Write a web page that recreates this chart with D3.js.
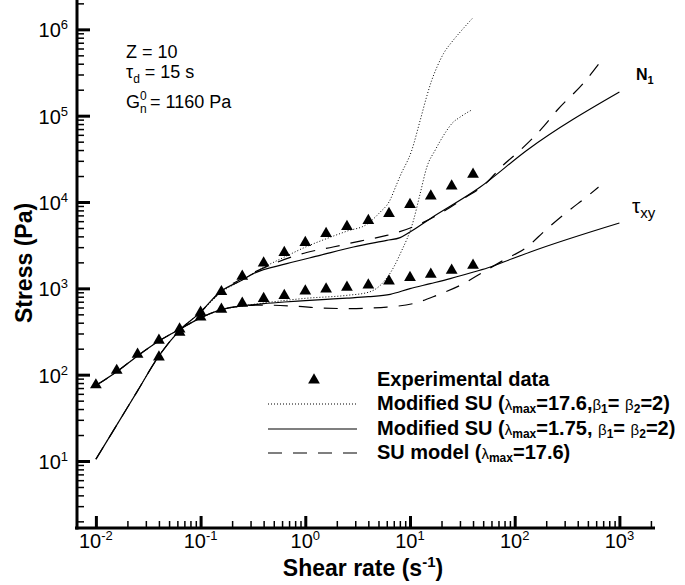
<!DOCTYPE html>
<html>
<head>
<meta charset="utf-8">
<script src="https://cdn.jsdelivr.net/npm/d3@7/dist/d3.min.js"></script>
<style>
  body { margin: 0; background: #fff; }
  text { font-family: Arial, "Liberation Sans", sans-serif; fill: #000; }
</style>
</head>
<body>
<script>
// dimensions
const width = 685;
const height = 585;

// experimental data (triangles)
const tauExpRate = [0.01, 0.0158, 0.025, 0.04, 0.063, 0.1, 0.158, 0.25, 0.4, 0.63, 1.0, 1.58, 2.5, 4.0, 6.3, 10, 15.8, 25, 40];
const tauExp = [76, 112, 172, 250, 337, 465, 571, 670, 760, 823, 930, 980, 1030, 1090, 1215, 1330, 1450, 1620, 1850];
const n1ExpRate = [0.04, 0.063, 0.1, 0.158, 0.25, 0.4, 0.63, 1.0, 1.58, 2.5, 4.0, 6.3, 10, 15.8, 25, 40];
const n1Exp = [160, 310, 527, 915, 1377, 1963, 2590, 3390, 4300, 5190, 6090, 7340, 9320, 11700, 15300, 20900];

// Modified SU (lambda_max = 17.6) - dotted
const dotN1Rate = [0.01, 0.0158, 0.025, 0.04, 0.063, 0.1, 0.158, 0.25, 0.4, 0.63, 1.0, 1.6, 2.5, 3.87, 5.2, 6.3, 7.5, 8.05, 10.4, 12.5, 14.5, 16, 18.1, 20.9, 25.1, 30.2, 39.2];
const dotN1 = [10.5, 26, 65, 165, 326, 531, 900, 1250, 1750, 2300, 3000, 3770, 4600, 5520, 7660, 10000, 16300, 20000, 39800, 88000, 170000, 250000, 366000, 524000, 714000, 933000, 1330000];
const dotTauRate = [0.01, 0.0158, 0.025, 0.04, 0.063, 0.1, 0.158, 0.25, 0.4, 1.0, 2.5, 4.0, 5.2, 7.0, 8.05, 10.8, 12.5, 14.5, 17.4, 22.5, 25.1, 30.2, 39.1];
const dotTau = [75, 108, 165, 245, 335, 455, 566, 624, 676, 766, 830, 900, 1083, 1766, 2500, 6140, 12500, 25500, 39900, 67700, 81000, 96600, 117000];

// Modified SU (lambda_max = 1.75) - solid
const solN1Rate = [0.01, 0.0158, 0.025, 0.04, 0.063, 0.1, 0.153, 0.25, 0.319, 0.665, 1.38, 2.88, 6.0, 8.05, 10, 15.6, 46.9, 131, 1000];
const solN1 = [10.5, 26, 65, 165, 326, 531, 906, 1250, 1480, 1930, 2410, 3010, 3600, 3870, 4490, 6420, 14900, 39800, 188000];
const solTauRate = [0.01, 0.0158, 0.025, 0.04, 0.063, 0.1, 0.158, 0.25, 0.4, 0.63, 1.0, 1.58, 2.5, 4.0, 6.47, 10, 15.6, 24.2, 40.5, 58.5, 78.3, 141, 1000];
const solTau = [75, 108, 165, 245, 335, 455, 566, 625, 665, 695, 720, 745, 770, 800, 852, 993, 1133, 1295, 1545, 1766, 2018, 2640, 5720];

// SU model (lambda_max = 17.6) - dashed
const dashN1Rate = [0.01, 0.0158, 0.025, 0.04, 0.063, 0.1, 0.158, 0.25, 0.535, 1.03, 1.84, 3.34, 6.0, 11.6, 18.1, 32.5, 50.5, 78.3, 113, 189, 254, 456, 631];
const dashN1 = [10.5, 26, 65, 165, 326, 531, 930, 1300, 2000, 2600, 3010, 3530, 4100, 5370, 7020, 10960, 15600, 27000, 39800, 75000, 115600, 240000, 394000];
const dashTauRate = [0.01, 0.0158, 0.025, 0.04, 0.063, 0.1, 0.158, 0.25, 0.4, 0.83, 1.48, 2.73, 4.0, 6.0, 10.7, 18, 30.2, 50, 77.8, 131, 196, 316, 508, 631];
const dashTau = [75, 108, 165, 245, 335, 455, 566, 625, 640, 619, 590, 582, 590, 607, 665, 830, 1084, 1545, 2110, 3010, 4700, 7660, 11970, 14900];

// axis ticks
const xMajor = [-2, -1, 0, 1, 2, 3];
const yMajor = [1, 2, 3, 4, 5, 6];

const legendLabels = ["Experimental data", "Modified SU", "Modified SU", "SU model"];

let svg = d3.select("body")
    .append("svg")
    .attr("width", width)
    .attr("height", height);

// log scales
let x = d3.scaleLog()
    .domain([Math.pow(10, -2.19), Math.pow(10, 3.34)])
    .range([76, 655]);
let y = d3.scaleLog()
    .domain([Math.pow(10, 0.224), Math.pow(10, 6.34)])
    .range([528, 0]);

// minor tick values
let xMinor = [];
for (let e = -3; e <= 3; e++) {
    for (let m = 2; m <= 9; m++) {
        let v = m * Math.pow(10, e);
        if (v > 0.01 && v < x.domain()[1]) xMinor.push(v);
    }
}
let yMinor = [];
for (let e = 0; e <= 6; e++) {
    for (let m = 2; m <= 9; m++) {
        let v = m * Math.pow(10, e);
        if (v > y.domain()[0] && v < y.domain()[1]) yMinor.push(v);
    }
}

// ticks point into the plot
function styleAxis(g, w) {
    g.select(".domain").remove();
    g.selectAll("line").attr("stroke", "#000").attr("stroke-width", w);
}
svg.append("g")
    .attr("transform", "translate(0,528)")
    .call(d3.axisTop(x).tickValues(xMinor).tickSize(7).tickFormat(""))
    .call(g => styleAxis(g, 1.5));
svg.append("g")
    .attr("transform", "translate(0,528)")
    .call(d3.axisTop(x).tickValues(xMajor.map(e => Math.pow(10, e))).tickSize(12).tickFormat(""))
    .call(g => styleAxis(g, 3));
svg.append("g")
    .attr("transform", "translate(77,0)")
    .call(d3.axisRight(y).tickValues(yMinor).tickSize(7).tickFormat(""))
    .call(g => styleAxis(g, 1.5));
svg.append("g")
    .attr("transform", "translate(77,0)")
    .call(d3.axisRight(y).tickValues(yMajor.map(e => Math.pow(10, e))).tickSize(13).tickFormat(""))
    .call(g => styleAxis(g, 3));

// axis lines
svg.append("line")
    .attr("x1", 75).attr("x2", 655).attr("y1", 528).attr("y2", 528)
    .attr("stroke", "#000").attr("stroke-width", 3);
svg.append("line")
    .attr("x1", 77).attr("x2", 77).attr("y1", 0).attr("y2", 529.5)
    .attr("stroke", "#000").attr("stroke-width", 3);

// tick labels 10^n
xMajor.forEach(function(e) {
    let t = svg.append("text")
        .attr("x", x(Math.pow(10, e)))
        .attr("y", 548)
        .attr("text-anchor", "middle")
        .style("font-size", "20px");
    t.append("tspan").text("10");
    t.append("tspan").attr("dy", -8).style("font-size", "13px").text(e);
});
yMajor.forEach(function(e) {
    let t = svg.append("text")
        .attr("x", 68)
        .attr("y", y(Math.pow(10, e)) + 8)
        .attr("text-anchor", "end")
        .style("font-size", "20px");
    t.append("tspan").text("10");
    t.append("tspan").attr("dy", -8).style("font-size", "13px").text(e);
});

// axis titles
let xt = svg.append("text")
    .attr("x", 363).attr("y", 576)
    .attr("text-anchor", "middle")
    .style("font-size", "23px").style("font-weight", "bold");
xt.append("tspan").text("Shear rate (s");
xt.append("tspan").attr("dy", -9).style("font-size", "15px").text("-1");
xt.append("tspan").attr("dy", 9).text(")");

svg.append("text")
    .attr("transform", "translate(32,263) rotate(-90)")
    .attr("text-anchor", "middle")
    .style("font-size", "23px").style("font-weight", "bold")
    .text("Stress (Pa)");

// model curves
let line = d3.line()
    .x(d => x(d[0]))
    .y(d => y(d[1]))
    .curve(d3.curveMonotoneX);

const curves = [
    { rate: dotN1Rate, val: dotN1, dash: "1,2", w: 1 },
    { rate: dotTauRate, val: dotTau, dash: "1,2", w: 1 },
    { rate: solN1Rate, val: solN1, dash: null, w: 1.2 },
    { rate: solTauRate, val: solTau, dash: null, w: 1.2 },
    { rate: dashN1Rate, val: dashN1, dash: "14,11", w: 1.2 },
    { rate: dashTauRate, val: dashTau, dash: "14,11", w: 1.2 }
];
curves.forEach(function(c) {
    svg.append("path")
        .datum(d3.zip(c.rate, c.val))
        .attr("d", line)
        .attr("fill", "none")
        .attr("stroke", "#000")
        .attr("stroke-width", c.w)
        .attr("stroke-dasharray", c.dash);
});

// experimental triangles
let tri = d3.symbol().type(d3.symbolTriangle).size(60);
svg.selectAll(".exp")
    .data(d3.zip(tauExpRate, tauExp).concat(d3.zip(n1ExpRate, n1Exp)))
    .enter()
    .append("path")
    .attr("class", "exp")
    .attr("d", tri)
    .attr("transform", d => "translate(" + x(d[0]) + "," + y(d[1]) + ")")
    .attr("fill", "#000");

// annotations
svg.append("text").attr("x", 126).attr("y", 58).style("font-size", "18px").text("Z = 10");
let td = svg.append("text").attr("x", 126).attr("y", 78).style("font-size", "18px");
td.append("tspan").text("\u03c4");
td.append("tspan").attr("dy", 5).style("font-size", "12px").text("d");
td.append("tspan").attr("dy", -5).text(" = 15 s");
svg.append("text").attr("x", 126).attr("y", 108).style("font-size", "18px").text("G");
svg.append("text").attr("x", 140).attr("y", 100).style("font-size", "12px").text("0");
svg.append("text").attr("x", 140).attr("y", 113).style("font-size", "12px").text("n");
svg.append("text").attr("x", 150).attr("y", 108).style("font-size", "18px").text("= 1160 Pa");

let n1 = svg.append("text").attr("x", 636).attr("y", 80)
    .style("font-size", "16px").style("font-weight", "bold");
n1.append("tspan").text("N");
n1.append("tspan").attr("dy", 4).style("font-size", "11px").text("1");
let txy = svg.append("text").attr("x", 632).attr("y", 213).style("font-size", "21px");
txy.append("tspan").text("\u03c4");
txy.append("tspan").attr("dy", 5).style("font-size", "15px").text("xy");

// legend
const legY = [380, 404, 429, 453];
svg.append("path")
    .attr("d", tri)
    .attr("transform", "translate(314," + legY[0] + ")")
    .attr("fill", "#000");
[["1,2", 1], [null, 1.2], ["14,11", 1.2]].forEach(function(s, i) {
    svg.append("line")
        .attr("x1", 268).attr("x2", 357)
        .attr("y1", legY[i + 1]).attr("y2", legY[i + 1])
        .attr("stroke", "#000")
        .attr("stroke-width", s[1])
        .attr("stroke-dasharray", s[0]);
});

// legend text pieces: b = bold, g = greek (normal, smaller), s = bold subscript
const legendParts = [
    [[legendLabels[0], "b"]],
    [[legendLabels[1] + " (", "b"], ["\u03bb", "g"], ["max", "s"], ["=17.6,", "b"], ["\u03b2", "g"], ["1", "s"], ["= ", "b"], ["\u03b2", "g"], ["2", "s"], ["=2)", "b"]],
    [[legendLabels[2] + " (", "b"], ["\u03bb", "g"], ["max", "s"], ["=1.75, ", "b"], ["\u03b2", "g"], ["1", "s"], ["= ", "b"], ["\u03b2", "g"], ["2", "s"], ["=2)", "b"]],
    [[legendLabels[3] + " (", "b"], ["\u03bb", "g"], ["max", "s"], ["=17.6)", "b"]]
];
legendParts.forEach(function(parts, i) {
    let t = svg.append("text")
        .attr("x", 377)
        .attr("y", legY[i] + 6)
        .style("font-size", "20px")
        .style("font-weight", "bold");
    let shift = 0;
    parts.forEach(function(p) {
        let ts = t.append("tspan").text(p[0]);
        if (p[1] === "g") {
            ts.style("font-weight", "normal").style("font-size", "15px").attr("dy", -shift);
            shift = 0;
        } else if (p[1] === "s") {
            ts.style("font-size", "12px").attr("dy", 3 - shift);
            shift = 3;
        } else {
            ts.attr("dy", -shift);
            shift = 0;
        }
    });
});
</script>
</body>
</html>
